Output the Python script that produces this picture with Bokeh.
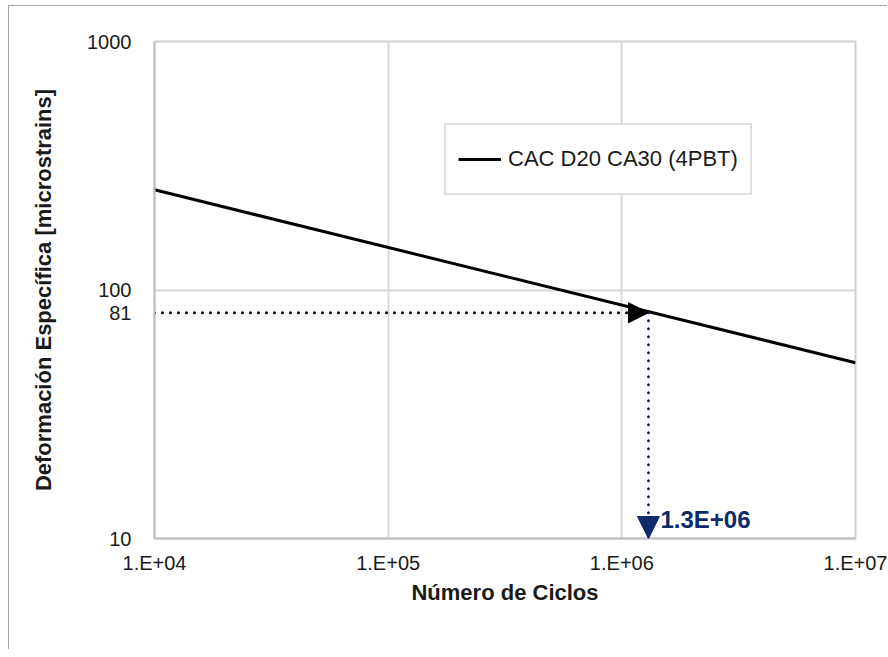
from bokeh.plotting import figure
from bokeh.models import (Range1d, FixedTicker, Arrow, NormalHead, Label,
                          Legend, LegendItem)
from bokeh.embed import file_html
from bokeh.resources import INLINE

# ---- data ----
cycles = [1e4, 1e7]
strain = [253, 51]
series_name = "CAC D20 CA30 (4PBT)"
target_strain = 81
target_cycles = 1.3e6
target_label = "1.3E+06"
x_ticks = [1e4, 1e5, 1e6, 1e7]
x_tick_labels = ["1.E+04", "1.E+05", "1.E+06", "1.E+07"]
y_ticks = [10, 100, 1000]
y_tick_labels = ["10", "100", "1000"]
x_title = "Número de Ciclos"
y_title = "Deformación Específica [microstrains]"

FONT = "Liberation Sans"
NAVY = "#0d2a6b"

p = figure(width=879, height=644, x_axis_type="log", y_axis_type="log",
           x_range=Range1d(x_ticks[0], x_ticks[-1]),
           y_range=Range1d(y_ticks[0], y_ticks[-1]),
           output_backend="svg", toolbar_location=None,
           min_border_left=145, min_border_top=35,
           min_border_right=33, min_border_bottom=112)
p.styles = {"border-left": "1px solid #a6a6a6", "border-top": "1px solid #a6a6a6",
            "margin-left": "8px", "margin-top": "5px"}
p.outline_line_color = "#d0d0d0"
p.outline_line_width = 2
p.background_fill_color = "white"
p.border_fill_color = "white"

# y axis carries the marked value 81 as an extra tick label
y_axis_ticks = sorted(y_ticks + [target_strain])
y_axis_labels = {t: l for t, l in zip(y_ticks, y_tick_labels)}
y_axis_labels[target_strain] = str(target_strain)

for ax, ticks, labels in ((p.xaxis[0], x_ticks, dict(zip(x_ticks, x_tick_labels))),
                          (p.yaxis[0], y_axis_ticks, y_axis_labels)):
    ax.ticker = FixedTicker(ticks=ticks)
    ax.major_label_overrides = labels
    ax.major_tick_line_color = None
    ax.minor_tick_line_color = None
    ax.axis_line_color = "#bfbfbf"
    ax.axis_line_width = 2
    ax.major_label_text_font = FONT
    ax.major_label_text_font_size = "20px"
    ax.major_label_text_color = "#1a1a1a"
    ax.axis_label_text_font = FONT
    ax.axis_label_text_font_size = "22px"
    ax.axis_label_text_font_style = "bold"
    ax.axis_label_text_color = "#1a1a1a"

p.xaxis.axis_label = x_title
p.yaxis.axis_label = y_title
p.xaxis.major_label_standoff = 7
p.yaxis.major_label_standoff = 17
p.xaxis.axis_label_standoff = 3
p.yaxis.axis_label_standoff = 28

p.xgrid.ticker = FixedTicker(ticks=x_ticks)
p.ygrid.ticker = FixedTicker(ticks=y_ticks)
p.xgrid.grid_line_color = "#d9d9d9"
p.ygrid.grid_line_color = "#d9d9d9"
p.xgrid.grid_line_width = 2
p.ygrid.grid_line_width = 2

main = p.line(cycles, strain, line_color="black", line_width=3)

# dotted guides
p.line([x_ticks[0], target_cycles], [target_strain, target_strain],
       line_color="black", line_width=3, line_dash="0 8", line_cap="round")
p.line([target_cycles, target_cycles], [target_strain, y_ticks[0]],
       line_color=NAVY, line_width=3, line_dash="0 8", line_cap="round")

p.add_layout(Arrow(end=NormalHead(size=20, fill_color="black", line_color="black"),
                   x_start=target_cycles * 0.8, y_start=target_strain,
                   x_end=target_cycles, y_end=target_strain, line_alpha=0))
p.add_layout(Arrow(end=NormalHead(size=22, fill_color=NAVY, line_color=NAVY),
                   x_start=target_cycles, y_start=y_ticks[0] * 1.3,
                   x_end=target_cycles, y_end=y_ticks[0], line_alpha=0))

p.add_layout(Label(x=target_cycles, y=y_ticks[0], x_offset=12, y_offset=6,
                   text=target_label, text_font=FONT, text_font_size="24px",
                   text_font_style="bold", text_color=NAVY,
                   text_baseline="bottom", text_align="left"))

legend = Legend(items=[LegendItem(label=series_name, renderers=[main])],
                location=(290, 343), padding=12, margin=0,
                glyph_width=43, glyph_height=44, label_height=44,
                label_standoff=7, spacing=0,
                label_text_font=FONT, label_text_font_size="22px",
                label_text_color="#1a1a1a",
                border_line_color="#bfbfbf", border_line_width=2,
                background_fill_color="white", background_fill_alpha=1)
p.add_layout(legend, "center")

open("out.html", "w").write(file_html(p, INLINE))
